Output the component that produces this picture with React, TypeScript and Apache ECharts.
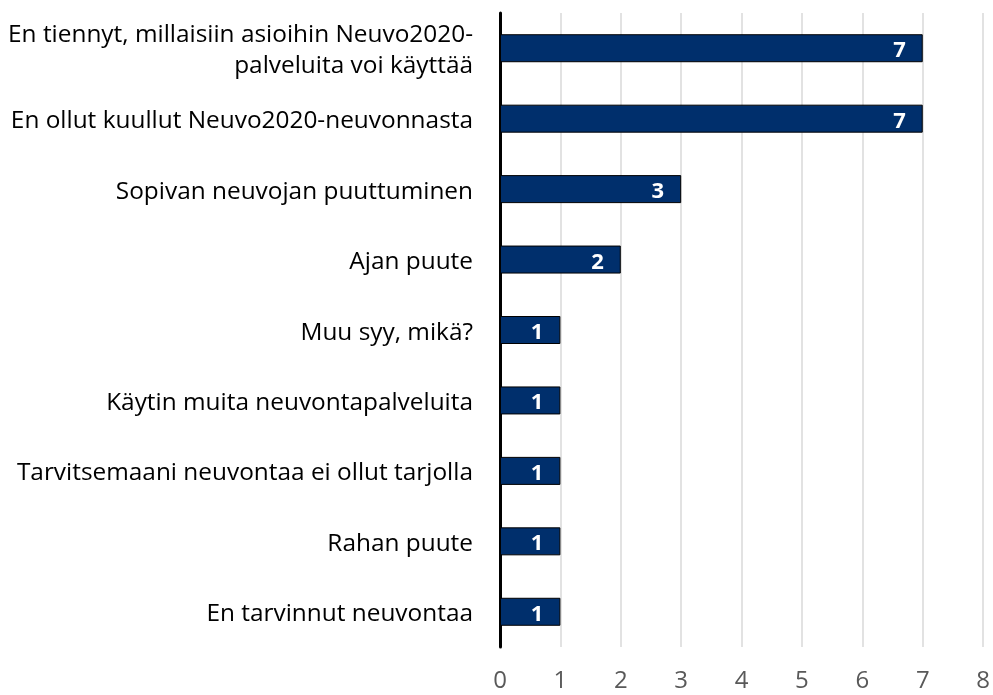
import React, { useEffect, useRef } from "react";
import * as echarts from "echarts";

const categories = [
  "En tiennyt, millaisiin asioihin Neuvo2020-\npalveluita voi käyttää",
  "En ollut kuullut Neuvo2020-neuvonnasta",
  "Sopivan neuvojan puuttuminen",
  "Ajan puute",
  "Muu syy, mikä?",
  "Käytin muita neuvontapalveluita",
  "Tarvitsemaani neuvontaa ei ollut tarjolla",
  "Rahan puute",
  "En tarvinnut neuvontaa",
];
const values = [7, 7, 3, 2, 1, 1, 1, 1, 1];
const axisMin = 0;
const axisMax = 8;
const axisStep = 1;

export default function App() {
  const ref = useRef<HTMLDivElement>(null);
  useEffect(() => {
    if (!ref.current) return;
    const chart = echarts.init(ref.current, undefined, { renderer: "svg" });
    const font = "'Open Sans', 'Noto Sans', sans-serif";
    chart.setOption({
      animation: false,
      grid: { left: 500, right: 6, top: 13, bottom: 48, containLabel: false },
      xAxis: {
        type: "value",
        min: axisMin,
        max: axisMax,
        interval: axisStep,
        axisLine: { show: false },
        axisTick: { show: false },
        splitLine: { show: true, lineStyle: { color: "#d9d9d9", width: 1.5 } },
        axisLabel: { color: "#595959", fontSize: 24, fontFamily: font, margin: 19 },
      },
      yAxis: {
        type: "category",
        data: categories,
        inverse: true,
        axisLine: { show: true, lineStyle: { color: "#000000", width: 3 } },
        axisTick: { show: false },
        axisLabel: {
          color: "#000000",
          fontSize: 24.4,
          fontFamily: font,
          margin: 27,
          lineHeight: 31,
          align: "right",
        },
      },
      series: [
        {
          type: "bar",
          data: values,
          barWidth: 28,
          itemStyle: { color: "#002F6C", borderColor: "#000000", borderWidth: 1 },
          label: {
            show: true,
            position: "insideRight",
            distance: 17,
            color: "#ffffff",
            fontWeight: "bold",
            fontSize: 22,
            fontFamily: font,
          },
        },
      ],
    });
    return () => chart.dispose();
  }, []);
  return (
    <div
      ref={ref}
      style={{ position: "fixed", left: 0, top: 0, width: 993, height: 695 }}
    />
  );
}
